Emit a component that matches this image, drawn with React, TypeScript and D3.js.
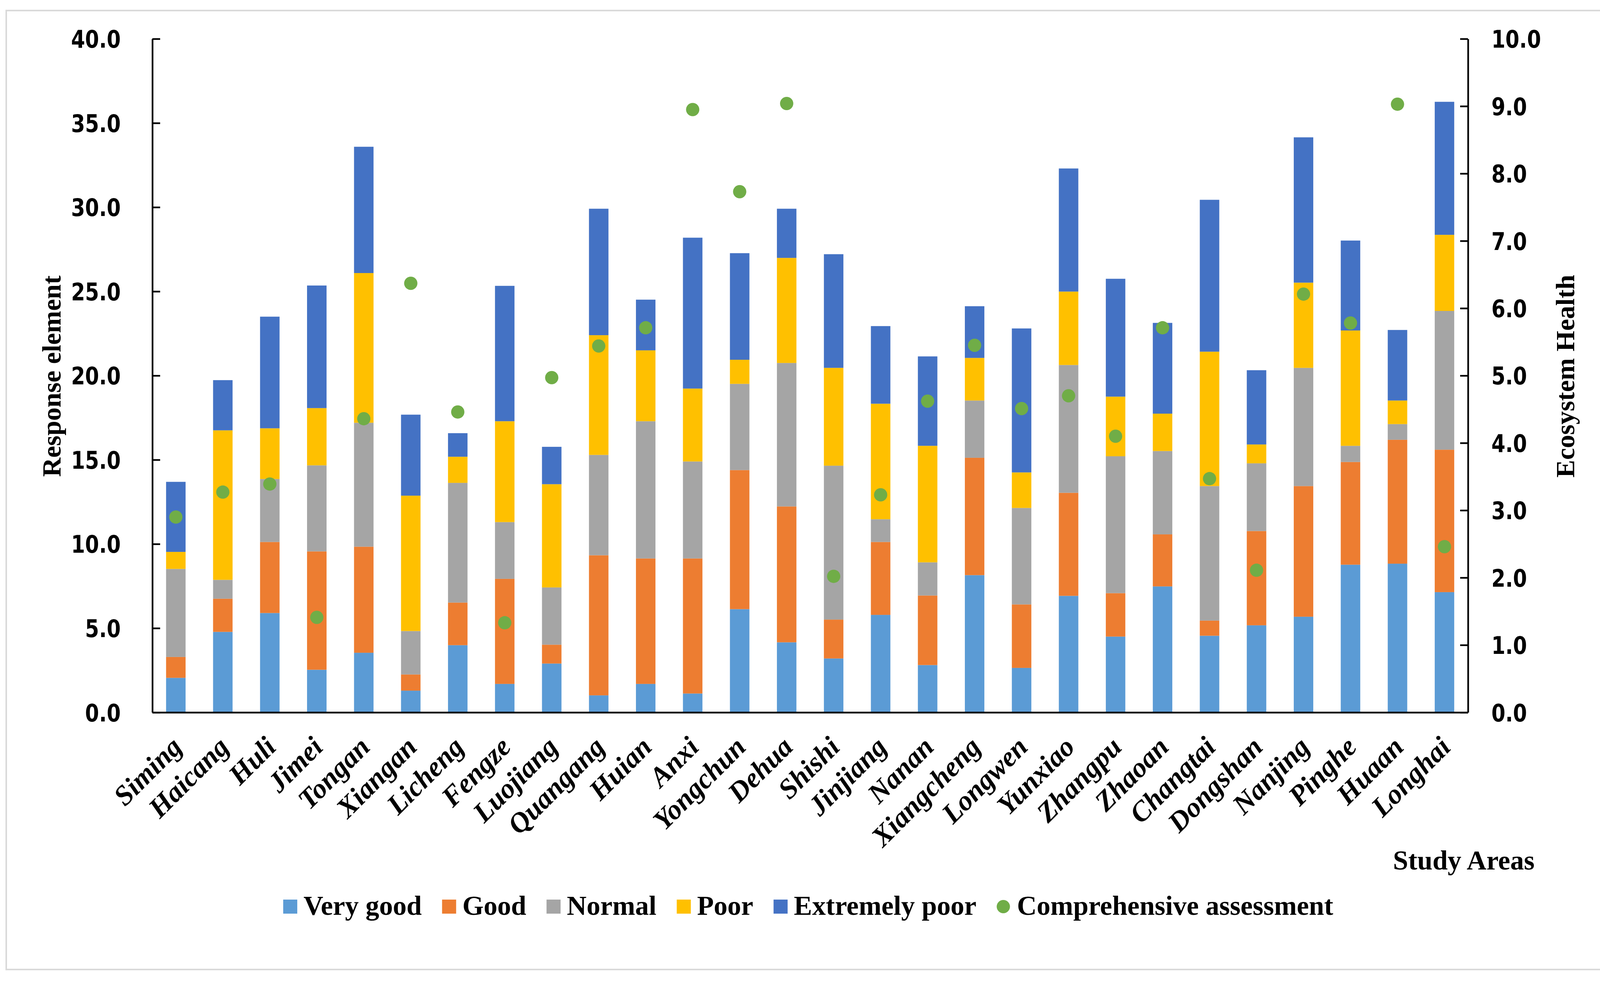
import { useRef, useEffect } from "react";
import * as d3 from "d3";

// Study areas (x categories)
const areas = [
  "Siming", "Haicang", "Huli", "Jimei", "Tongan", "Xiangan", "Licheng",
  "Fengze", "Luojiang", "Quangang", "Huian", "Anxi", "Yongchun", "Dehua",
  "Shishi", "Jinjiang", "Nanan", "Xiangcheng", "Longwen", "Yunxiao",
  "Zhangpu", "Zhaoan", "Changtai", "Dongshan", "Nanjing", "Pinghe", "Huaan",
  "Longhai",
];

// Response element segments (left axis)
const veryGood = [2.05, 4.78, 5.9, 2.53, 3.54, 1.29, 3.99, 1.69, 2.9, 1.01, 1.69, 1.12, 6.13, 4.16, 3.2, 5.79, 2.81, 8.15, 2.64, 6.92, 4.5, 7.48, 4.55, 5.17, 5.68, 8.77, 8.83, 7.14];
const good = [1.24, 1.97, 4.22, 7.03, 6.3, 0.96, 2.53, 6.24, 1.12, 8.32, 7.45, 8.02, 8.26, 8.07, 2.31, 4.33, 4.13, 6.97, 3.77, 6.12, 2.58, 3.09, 0.9, 5.6, 7.76, 6.1, 7.36, 8.46];
const normal = [5.23, 1.12, 3.74, 5.11, 7.36, 2.58, 7.11, 3.37, 3.4, 5.96, 8.15, 5.76, 5.12, 8.52, 9.14, 1.35, 1.97, 3.4, 5.73, 7.59, 8.13, 4.95, 7.99, 4.02, 7.02, 0.96, 0.93, 8.24];
const poor = [1.01, 8.88, 3.01, 3.4, 8.89, 8.04, 1.55, 5.99, 6.13, 7.11, 4.21, 4.33, 1.43, 6.24, 5.81, 6.86, 6.92, 2.53, 2.11, 4.36, 3.54, 2.22, 7.98, 1.12, 5.06, 6.85, 1.4, 4.52];
const extremelyPoor = [4.16, 2.98, 6.63, 7.28, 7.5, 4.81, 1.4, 8.04, 2.22, 7.51, 3.01, 8.96, 6.33, 2.92, 6.75, 4.61, 5.31, 3.07, 8.55, 7.31, 7.0, 5.39, 9.02, 4.41, 8.63, 5.34, 4.19, 7.9];

// Ecosystem health (right axis)
const comprehensive = [2.9, 3.27, 3.39, 1.41, 4.36, 6.37, 4.46, 1.33, 4.97, 5.44, 5.71, 8.95, 7.73, 9.04, 2.02, 3.23, 4.62, 5.45, 4.51, 4.7, 4.1, 5.71, 3.47, 2.11, 6.21, 5.78, 9.03, 2.46];

const seriesNames = ["Very good", "Good", "Normal", "Poor", "Extremely poor"];
const seriesValues = [veryGood, good, normal, poor, extremelyPoor];
const seriesColors = ["#5B9BD5", "#ED7D31", "#A5A5A5", "#FFC000", "#4472C4"];
const dotName = "Comprehensive assessment";
const dotColor = "#70AD47";

const leftTicks = [0, 5, 10, 15, 20, 25, 30, 35, 40];
const rightTicks = [0, 1, 2, 3, 4, 5, 6, 7, 8, 9, 10];

const W = 4155;
const H = 2514;
const SERIF = "'Liberation Serif', 'Times New Roman', serif";
const SANS = "'DejaVu Sans', Verdana, sans-serif";

export default function App() {
  const svgRef = useRef<SVGSVGElement>(null);

  useEffect(() => {
    if (!svgRef.current) return;
    const svg = d3.select(svgRef.current);
    svg.selectAll("*").remove();

    const x0 = 390;
    const x1 = 3758;
    const yTop = 99.4;
    const yBottom = 1823.7;

    svg.append("rect").attr("width", W).attr("height", H).attr("fill", "#fff");
    svg
      .append("rect")
      .attr("x", 16)
      .attr("y", 27)
      .attr("width", 4116)
      .attr("height", 2455)
      .attr("fill", "none")
      .attr("stroke", "#D9D9D9")
      .attr("stroke-width", 4);

    const x = d3
      .scaleBand<string>()
      .domain(areas)
      .range([x0, x1])
      .paddingInner(0.585)
      .paddingOuter(0.2925);
    const yL = d3.scaleLinear().domain([0, 40]).range([yBottom, yTop]);
    const yR = d3.scaleLinear().domain([0, 10]).range([yBottom, yTop]);

    const rows = areas.map((name, i) => {
      const r: Record<string, number | string> = { name };
      seriesNames.forEach((s, k) => (r[s] = seriesValues[k][i]));
      return r;
    });
    const stacked = d3.stack<Record<string, number | string>>().keys(seriesNames)(rows as any);

    // Bars
    svg
      .append("g")
      .selectAll("g")
      .data(stacked)
      .join("g")
      .attr("fill", (_, k) => seriesColors[k])
      .selectAll("rect")
      .data((d) => d)
      .join("rect")
      .attr("x", (d) => x(d.data.name as string)!)
      .attr("width", x.bandwidth())
      .attr("y", (d) => yL(d[1]))
      .attr("height", (d) => yL(d[0]) - yL(d[1]));

    // Left axis
    const axL = svg
      .append("g")
      .attr("transform", `translate(${x0},0)`)
      .call(
        d3
          .axisLeft(yL)
          .tickValues(leftTicks)
          .tickSize(-20)
          .tickSizeOuter(0)
          .tickPadding(81)
          .tickFormat(d3.format(".1f"))
      );
    // Right axis
    const axR = svg
      .append("g")
      .attr("transform", `translate(${x1},0)`)
      .call(
        d3
          .axisRight(yR)
          .tickValues(rightTicks)
          .tickSize(-20)
          .tickSizeOuter(0)
          .tickPadding(60)
          .tickFormat(d3.format(".1f"))
      );
    [axL, axR].forEach((ax, i) => {
      ax.attr("font-family", SANS).attr("font-size", 62).attr("font-weight", "bold").attr("color", "#000");
      ax.selectAll(".domain, line").attr("stroke-width", 4.3);
      ax.selectAll("text")
        .attr("x", null)
        .attr("dy", "0.36em")
        .attr("transform", `translate(${i === 0 ? -81 : 60},0) scale(0.83,1)`);
    });

    // Bottom axis with rotated labels
    const axB = svg
      .append("g")
      .attr("transform", `translate(0,${yBottom})`)
      .call(d3.axisBottom(x).tickSize(0).tickSizeOuter(0).tickPadding(0));
    axB.attr("font-family", SERIF).attr("font-size", 72).attr("font-weight", "bold").attr("font-style", "italic").attr("color", "#000");
    axB.select(".domain").attr("stroke-width", 4.5);
    axB.selectAll("text")
      .attr("y", null)
      .attr("dy", "0.35em")
      .attr("text-anchor", "end")
      .attr("transform", "translate(2,75) rotate(-45)");

    // Comprehensive assessment dots
    svg
      .append("g")
      .selectAll("circle")
      .data(comprehensive)
      .join("circle")
      .attr("cx", (_, i) => x(areas[i])! + x.bandwidth() / 2)
      .attr("cy", (d) => yR(d))
      .attr("r", 17)
      .attr("fill", dotColor);

    // Axis titles
    const title = svg
      .append("g")
      .attr("font-family", SERIF)
      .attr("font-weight", "bold")
      .attr("fill", "#000");
    title
      .append("text")
      .attr("transform", `translate(155,963) rotate(-90)`)
      .attr("text-anchor", "middle")
      .attr("font-size", 68)
      .text("Response element");
    title
      .append("text")
      .attr("transform", `translate(4030,963) rotate(-90)`)
      .attr("text-anchor", "middle")
      .attr("font-size", 68)
      .text("Ecosystem Health");
    title
      .append("text")
      .attr("x", 3566)
      .attr("y", 2226)
      .attr("font-size", 70)
      .text("Study Areas");

    // Legend
    const lg = svg
      .append("g")
      .attr("font-family", SERIF)
      .attr("font-weight", "bold")
      .attr("font-size", 70)
      .attr("fill", "#000");
    const baseY = 2342;
    let cx = 725;
    seriesNames.forEach((s, k) => {
      lg.append("rect")
        .attr("x", cx)
        .attr("y", 2303)
        .attr("width", 36)
        .attr("height", 36)
        .attr("fill", seriesColors[k]);
      const t = lg.append("text").attr("x", cx + 52).attr("y", baseY).text(s);
      const len = (t.node() as SVGTextElement).getComputedTextLength();
      cx = cx + 52 + len + 52;
    });
    lg.append("circle").attr("cx", cx + 17).attr("cy", 2321).attr("r", 17).attr("fill", dotColor);
    lg.append("text").attr("x", cx + 52).attr("y", baseY).text(dotName);
  }, []);

  return (
    <svg
      ref={svgRef}
      width={W}
      height={H}
      viewBox={`0 0 ${W} ${H}`}
      style={{ position: "absolute", left: 0, top: 0, display: "block" }}
    />
  );
}
